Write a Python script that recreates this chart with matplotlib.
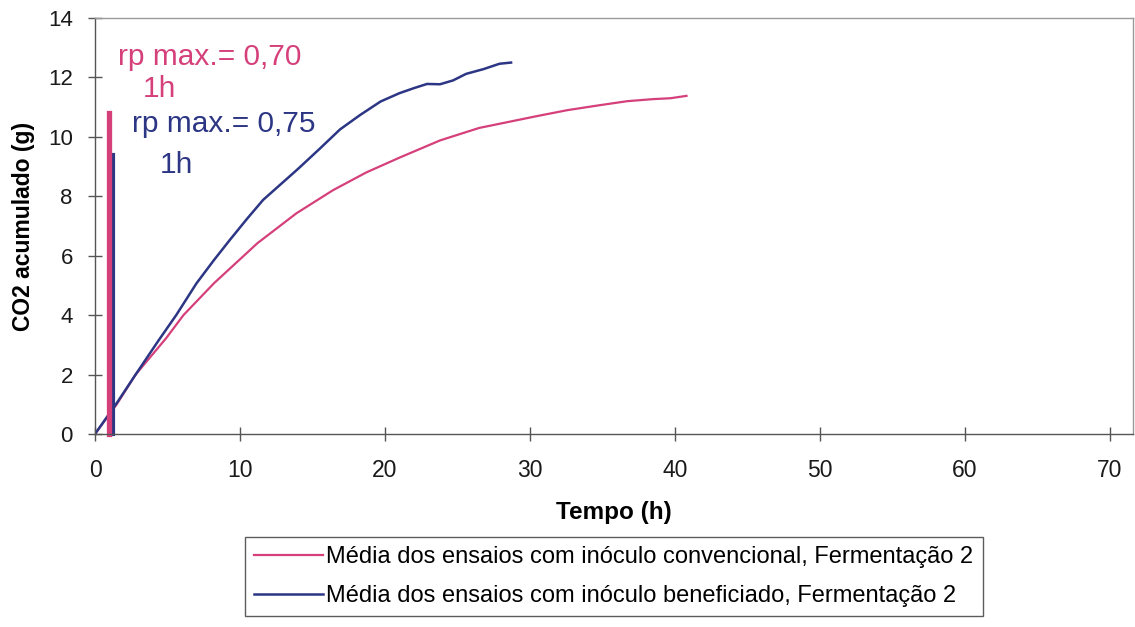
import matplotlib
matplotlib.use("Agg")
import matplotlib.pyplot as plt

# CO2 acumulado (g) x tempo (h), médias da Fermentação 2
t_conv = [0, 1.5, 2.8, 4.9, 6.1, 8.2, 11.2, 13.9, 16.4, 18.7, 21.0, 23.8,
          26.5, 28.5, 30.5, 32.6, 34.6, 36.7, 38.5, 39.7, 40.8]
co2_conv = [0, 1.0, 2.0, 3.22, 4.0, 5.07, 6.42, 7.43, 8.2, 8.8, 9.3, 9.88,
            10.3, 10.5, 10.7, 10.9, 11.05, 11.2, 11.27, 11.3, 11.38]

t_benef = [0, 1.5, 2.8, 4.4, 5.6, 7.0, 8.2, 9.3, 10.5, 11.6, 12.8, 14.0,
           15.5, 16.9, 18.3, 19.7, 21.0, 22.0, 22.9, 23.8, 24.7, 25.6, 26.8,
           27.9, 28.7]
co2_benef = [0, 1.04, 2.0, 3.16, 4.0, 5.07, 5.85, 6.53, 7.25, 7.88, 8.4, 8.92,
             9.6, 10.25, 10.74, 11.19, 11.47, 11.64, 11.78, 11.77, 11.9, 12.12,
             12.28, 12.46, 12.5]

# velocidade máxima de produção (rp max.) e instante em que ocorre
rp_t = [1.0, 1.25]
rp_bar = [10.8, 9.4]
rp_val = ["0,70", "0,75"]
rp_hora = ["1h", "1h"]

labels = ["Média dos ensaios com inóculo convencional, Fermentação 2",
          "Média dos ensaios com inóculo beneficiado, Fermentação 2"]

PINK = "#d5407b"
NAVY = "#2c3684"

plt.rcParams["font.family"] = ["Liberation Sans", "DejaVu Sans"]

fig = plt.figure(figsize=(11.35, 6.27), dpi=100)
ax = fig.add_axes([95 / 1135, 1 - 434 / 627, 1038 / 1135, 416 / 627])

ax.plot(t_conv, co2_conv, color=PINK, lw=1.6)
ax.plot(t_benef, co2_benef, color=NAVY, lw=1.8)

# barras de rp max.
ax.vlines(rp_t[1], 0, rp_bar[1], color=NAVY, lw=3.0, clip_on=False,
          capstyle="projecting")
ax.vlines(rp_t[0], 0, rp_bar[0], color=PINK, lw=3.8, clip_on=False,
          capstyle="projecting")

ax.text(1.6, 12.42, f"rp max.= {rp_val[0]}", color=PINK, fontsize=21.5)
ax.text(3.3, 11.35, rp_hora[0], color=PINK, fontsize=21.5)
ax.text(2.55, 10.17, f"rp max.= {rp_val[1]}", color=NAVY, fontsize=21.5)
ax.text(4.5, 8.79, rp_hora[1], color=NAVY, fontsize=21.5)

ax.set_xlim(0, 71.6)
ax.set_ylim(0, 14)
ax.set_xticks(range(0, 80, 10))
ax.set_yticks(range(0, 16, 2))

for side in ("left", "bottom"):
    ax.spines[side].set_color("#555555")
    ax.spines[side].set_linewidth(1.0)
for side in ("top", "right"):
    ax.spines[side].set_color("#9a9a9a")
    ax.spines[side].set_linewidth(1.0)

ax.tick_params(axis="both", direction="inout", length=10, width=1.0,
               color="#555555", labelcolor="#1a1a1a")
ax.tick_params(axis="x", labelsize=16.5, pad=13)
ax.tick_params(axis="y", labelsize=16, pad=11)

ax.set_xlabel("Tempo (h)", fontsize=17.5, fontweight="bold", labelpad=14)
ax.set_ylabel("CO2 acumulado (g)", fontsize=16.5, fontweight="bold",
              labelpad=9)

fig.legend(labels, loc="upper left",
           bbox_to_anchor=(245 / 1135, 1 - 537 / 627),
           fontsize=17, frameon=True, fancybox=False, edgecolor="#333333",
           handlelength=2.9, handletextpad=0.15, labelspacing=0.7,
           borderpad=0.4, borderaxespad=0)

fig.savefig("out.png", dpi=100, facecolor="white")
